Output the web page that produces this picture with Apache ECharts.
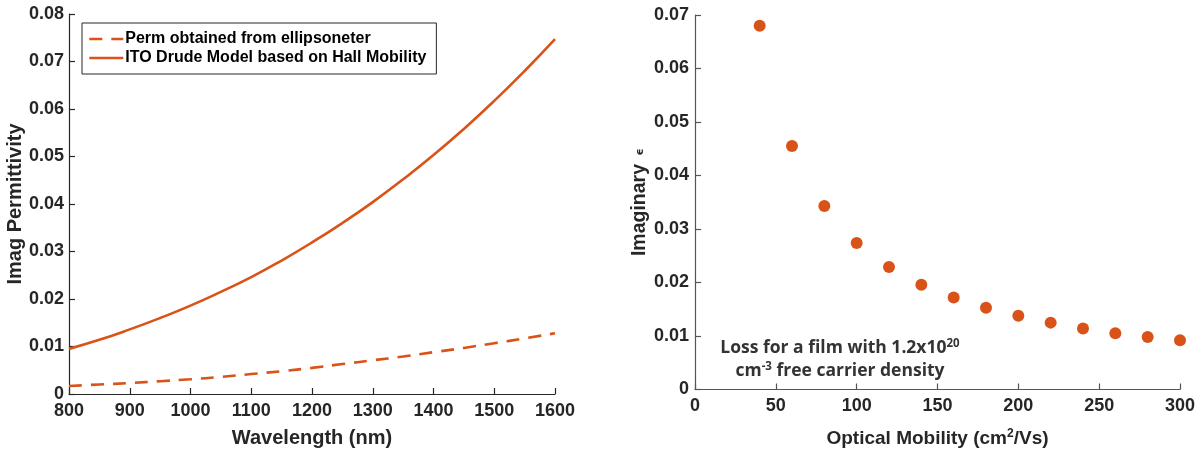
<!DOCTYPE html>
<html>
<head>
<meta charset="utf-8">
<script src="https://cdn.jsdelivr.net/npm/echarts@6/dist/echarts.min.js"></script>
<style>
  html, body { margin: 0; padding: 0; background: #fff; }
  #chart { width: 1199px; height: 453px; }
</style>
</head>
<body>
<div id="chart"></div>
<script>
// Left panel: imaginary permittivity vs wavelength
const wavelengths = [800, 850, 900, 950, 1000, 1050, 1100, 1150, 1200, 1250, 1300, 1350, 1400, 1450, 1500, 1550, 1600];
const ellipsometerPerm = [0.0017, 0.0020, 0.0023, 0.0027, 0.0031, 0.0036, 0.0042, 0.0048, 0.0055, 0.0063, 0.0071, 0.0079, 0.0088, 0.0097, 0.0107, 0.0117, 0.0128];
const drudeHallPerm = [0.0095, 0.0114, 0.0136, 0.0160, 0.0186, 0.0215, 0.0246, 0.0281, 0.0319, 0.0360, 0.0404, 0.0452, 0.0503, 0.0558, 0.0617, 0.0680, 0.0747];

// Right panel: loss vs optical mobility
const mobility = [40, 60, 80, 100, 120, 140, 160, 180, 200, 220, 240, 260, 280, 300];
const imagEps = [0.0680, 0.0455, 0.0343, 0.0274, 0.0229, 0.0196, 0.0172, 0.0153, 0.0138, 0.0125, 0.0114, 0.0105, 0.0098, 0.0092];

const seriesNames = ['Perm obtained from ellipsoneter', 'ITO Drude Model based on Hall Mobility'];

const orange = '#D95319';
const textDark = '#262626';
const helv = 'Liberation Sans, Arial, Helvetica, sans-serif';
const tickFont = { fontFamily: helv, fontWeight: 'bold', fontSize: 18, color: textDark };

function axisCommon(color, fmt, margin) {
  return {
    axisLine: { show: true, onZero: false, lineStyle: { color: color, width: 1.2 } },
    axisTick: { show: true, inside: true, length: 6, lineStyle: { color: color, width: 1.2 } },
    splitLine: { show: false },
    axisLabel: Object.assign({ margin: margin, formatter: fmt }, tickFont)
  };
}
const fmtInt = v => String(v);
const fmtDec = v => String(+v.toFixed(3));

const chart = echarts.init(document.getElementById('chart'), null, { renderer: 'canvas' });

chart.setOption({
  animation: false,
  backgroundColor: '#ffffff',
  grid: [
    { left: 69, right: 644, top: 14, bottom: 58 },
    { left: 695, right: 19, top: 15, bottom: 63 }
  ],
  legend: {
    data: seriesNames,
    orient: 'vertical',
    left: 82,
    top: 23,
    itemWidth: 34,
    itemHeight: 16,
    itemGap: 3,
    padding: [8, 10, 8, 6],
    borderColor: '#262626',
    borderWidth: 1,
    backgroundColor: '#fff',
    itemStyle: { opacity: 0 },
    lineStyle: { width: 2.6 },
    textStyle: { fontFamily: helv, fontWeight: 'bold', fontSize: 16, color: '#000', padding: [0, 0, 0, -3] }
  },
  xAxis: [
    Object.assign(axisCommon(textDark, fmtInt, 8), {
      gridIndex: 0, type: 'value', min: 800, max: 1600, interval: 100,
      name: 'Wavelength (nm)', nameLocation: 'middle', nameGap: 34,
      nameTextStyle: Object.assign({}, tickFont, { fontSize: 20 })
    }),
    Object.assign(axisCommon('#555', fmtInt, 8), {
      gridIndex: 1, type: 'value', min: 0, max: 300, interval: 50,
      name: 'Optical Mobility (cm{sup|2}/Vs)', nameLocation: 'middle', nameGap: 38,
      nameTextStyle: Object.assign({}, tickFont, {
        fontSize: 19,
        rich: { sup: { fontFamily: helv, fontWeight: 'bold', fontSize: 12, color: textDark, verticalAlign: 'top', padding: [0, 0, 10, 0] } }
      })
    })
  ],
  yAxis: [
    Object.assign(axisCommon(textDark, fmtDec, 5), {
      gridIndex: 0, type: 'value', min: 0, max: 0.08, interval: 0.01,
      name: 'Imag Permittivity', nameLocation: 'middle', nameGap: 40,
      nameTextStyle: Object.assign({}, tickFont, { fontSize: 20 })
    }),
    Object.assign(axisCommon('#555', fmtDec, 6), {
      gridIndex: 1, type: 'value', min: 0, max: 0.07, interval: 0.01,
      name: 'Imaginary {eps|ϵ}', nameLocation: 'middle', nameGap: 45,
      nameTextStyle: Object.assign({}, tickFont, {
        fontSize: 19.5,
        rich: { eps: { fontFamily: 'DejaVu Sans, sans-serif', fontSize: 11, color: textDark, verticalAlign: 'middle', padding: [0, 0, 0, 3] } }
      })
    })
  ],
  series: [
    {
      name: seriesNames[0], type: 'line', xAxisIndex: 0, yAxisIndex: 0,
      data: wavelengths.map((w, i) => [w, ellipsometerPerm[i]]),
      smooth: true, symbol: 'none',
      lineStyle: { color: orange, width: 2.6, type: [13, 9] },
      itemStyle: { color: orange }
    },
    {
      name: seriesNames[1], type: 'line', xAxisIndex: 0, yAxisIndex: 0,
      data: wavelengths.map((w, i) => [w, drudeHallPerm[i]]),
      smooth: true, symbol: 'none',
      lineStyle: { color: orange, width: 2.6 },
      itemStyle: { color: orange }
    },
    {
      name: 'Imaginary ϵ', type: 'scatter', xAxisIndex: 1, yAxisIndex: 1,
      data: mobility.map((m, i) => [m, imagEps[i]]),
      symbol: 'circle', symbolSize: 12,
      itemStyle: { color: orange, opacity: 1 }
    }
  ],
  graphic: [
    {
      type: 'text',
      x: 840, y: 348,
      style: {
        text: 'Loss for a film with 1.2x10{sup|20}',
        align: 'center', verticalAlign: 'middle',
        fontFamily: 'Open Sans, Lato, sans-serif', fontWeight: 'bold', fontSize: 17.5, fill: '#333',
        rich: { sup: { fontFamily: 'Open Sans, Lato, sans-serif', fontWeight: 'bold', fontSize: 11.5, fill: '#333', verticalAlign: 'top', padding: [0, 0, 9, 0] } }
      }
    },
    {
      type: 'text',
      x: 840, y: 371,
      style: {
        text: 'cm{sup|-3} free carrier density',
        align: 'center', verticalAlign: 'middle',
        fontFamily: 'Open Sans, Lato, sans-serif', fontWeight: 'bold', fontSize: 17.5, fill: '#333',
        rich: { sup: { fontFamily: 'Open Sans, Lato, sans-serif', fontWeight: 'bold', fontSize: 11.5, fill: '#333', verticalAlign: 'top', padding: [0, 0, 9, 0] } }
      }
    }
  ]
});
</script>
</body>
</html>
